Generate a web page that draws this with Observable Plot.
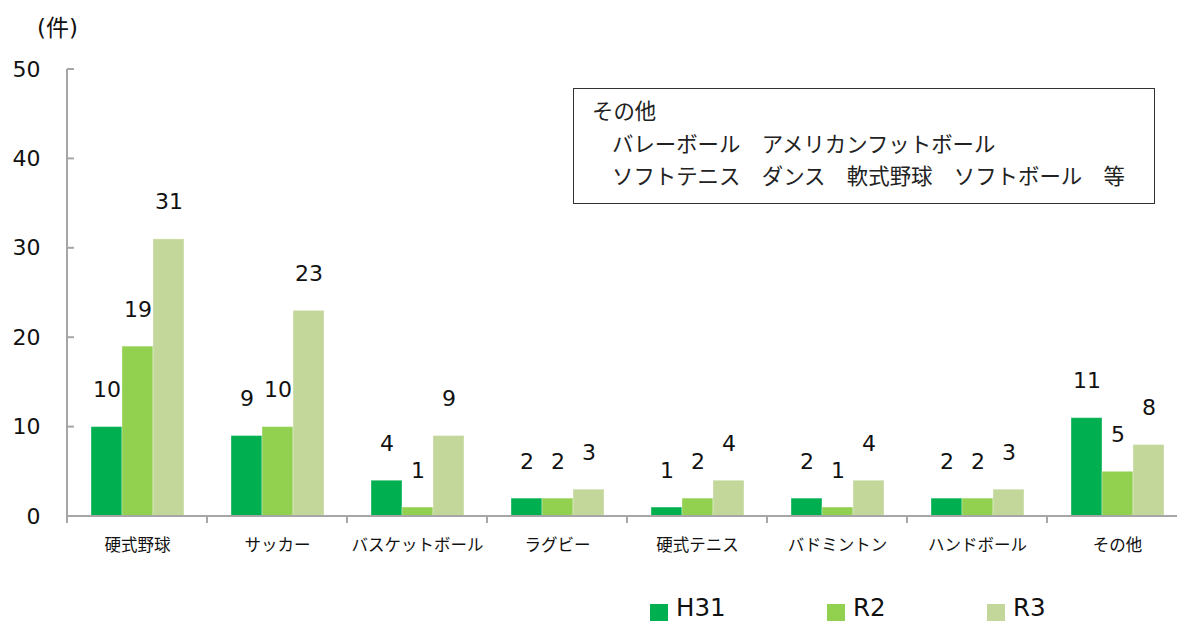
<!DOCTYPE html>
<html>
<head>
<meta charset="utf-8">
<script src="https://cdn.jsdelivr.net/npm/d3@7"></script>
<script src="https://cdn.jsdelivr.net/npm/@observablehq/plot@0.6"></script>
<style>
  html, body { margin: 0; padding: 0; background: #fff; overflow: hidden; }
  #wrap { position: relative; width: 1177px; height: 621px; overflow: hidden; font-family: "DejaVu Sans", "Noto Sans CJK JP", sans-serif; }
  #chart svg { max-width: none !important; }
  #unit { position: absolute; left: 37px; top: 17px; font-size: 23px; line-height: 1; color: #111; font-family: "DejaVu Sans", "Noto Sans CJK JP", sans-serif; }
  #note { position: absolute; left: 573px; top: 88px; width: 580px; height: 114px; border: 1.5px solid #333; box-sizing: content-box;
          font-family: "Noto Sans CJK JP", sans-serif; font-size: 21.4px; color: #222; }
  #note div { position: absolute; white-space: pre; line-height: 1; }
  #legend { position: absolute; left: 0; top: 570px; width: 1177px; height: 51px; }
  .sw { position: absolute; width: 18px; height: 17px; top: 34px; }
  .lt { position: absolute; top: 26px; font-size: 24.5px; line-height: 1; color: #111; font-family: "DejaVu Sans", sans-serif; }
</style>
</head>
<body>
<div id="wrap">
  <div id="chart"></div>
  <div id="unit"></div>
  <div id="note"></div>
  <div id="legend"></div>
</div>
<script>
const categories = ["硬式野球", "サッカー", "バスケットボール", "ラグビー", "硬式テニス", "バドミントン", "ハンドボール", "その他"];
const series = ["H31", "R2", "R3"];
const valuesH31 = [10, 9, 4, 2, 1, 2, 2, 11];
const valuesR2 = [19, 10, 1, 2, 2, 1, 2, 5];
const valuesR3 = [31, 23, 9, 3, 4, 4, 3, 8];
const seriesColors = ["#00B050", "#92D050", "#C4D79B"];
const yTicks = [0, 10, 20, 30, 40, 50];
const unitLabel = "(件)";
const noteTitle = "その他";
const noteLines = ["バレーボール　アメリカンフットボール", "ソフトテニス　ダンス　軟式野球　ソフトボール　等"];

const allValues = [valuesH31, valuesR2, valuesR3];
const rows = [];
categories.forEach((c, i) => {
  series.forEach((s, j) => rows.push({category: c, series: s, value: allValues[j][i]}));
});

const chart = Plot.plot({
  width: 1187,
  height: 570,
  marginLeft: 67,
  marginRight: 0,
  marginTop: 69,
  marginBottom: 54,
  style: {fontFamily: "'DejaVu Sans', 'Noto Sans CJK JP', sans-serif", color: "#111", background: "transparent"},
  fx: {domain: categories, padding: 0, label: null, axis: null},
  x: {domain: series, paddingInner: 0, paddingOuter: 0.758, axis: null},
  y: {domain: [0, 50], label: null, axis: null},
  color: {domain: series, range: seriesColors},
  marks: [
    Plot.axisY({ticks: yTicks, tickSize: 0, tickPadding: 27, fontSize: 22, label: null}),
    Plot.axisFx({anchor: "bottom", tickSize: 0, tickPadding: 23, fontSize: 16.5, fontFamily: "'Noto Sans CJK JP', sans-serif", label: null}),
    Plot.barY(rows, {fx: "category", x: "series", y: "value", fill: "series", stroke: "#fff", strokeOpacity: 0.35, strokeWidth: 1}),
    Plot.text(rows, {fx: "category", x: "series", y: "value", text: d => String(d.value), dy: -37, fontSize: 22, fill: "#111"})
  ]
});
chart.style.maxWidth = "none";
document.getElementById("chart").appendChild(chart);

// axis lines and ticks from the library's scales
const fx = chart.scale("fx"), y = chart.scale("y");
const svg = d3.select(chart);
const x0 = fx.apply(categories[0]);
const y0 = y.apply(0), yTop = y.apply(50);
const g = svg.append("g").attr("stroke", "#A6A6A6").attr("stroke-width", 2).attr("fill", "none");
g.append("line").attr("x1", x0).attr("x2", x0).attr("y1", yTop).attr("y2", y0 + 1);
const xEnd = fx.apply(categories[categories.length - 1]) + fx.bandwidth;
g.append("line").attr("x1", x0 - 1).attr("x2", xEnd).attr("y1", y0).attr("y2", y0);
yTicks.forEach(t => {
  g.append("line").attr("x1", x0).attr("x2", x0 + 7).attr("y1", y.apply(t)).attr("y2", y.apply(t));
});
categories.concat([null]).forEach((c, i) => {
  const xx = c === null ? xEnd : fx.apply(c);
  g.append("line").attr("x1", xx).attr("x2", xx).attr("y1", y0).attr("y2", y0 + 7);
});

// unit label & note box
document.getElementById("unit").textContent = unitLabel;
const note = document.getElementById("note");
const t0 = document.createElement("div"); t0.textContent = noteTitle; t0.style.left = "18px"; t0.style.top = "10px"; note.appendChild(t0);
noteLines.forEach((l, i) => {
  const d = document.createElement("div"); d.textContent = l; d.style.left = "38px"; d.style.top = (43 + i * 32) + "px"; note.appendChild(d);
});

// legend from color scale
const color = chart.scale("color");
const legend = document.getElementById("legend");
const legendLeft = [650, 827, 987];
series.forEach((s, i) => {
  const sw = document.createElement("div"); sw.className = "sw"; sw.style.left = legendLeft[i] + "px"; sw.style.background = color.apply(s); legend.appendChild(sw);
  const lt = document.createElement("div"); lt.className = "lt"; lt.style.left = (legendLeft[i] + 26) + "px"; lt.textContent = s; legend.appendChild(lt);
});
</script>
</body>
</html>
